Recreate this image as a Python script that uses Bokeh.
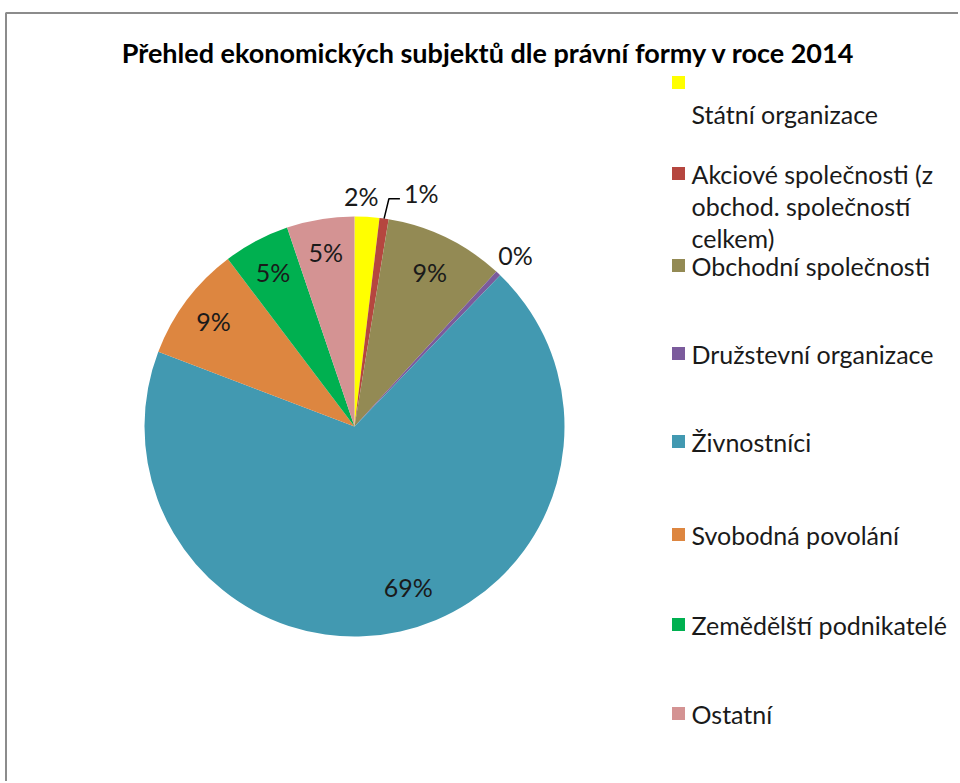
import math
from bokeh.plotting import figure
from bokeh.models import Range1d, ColumnDataSource
from bokeh.core.properties import value
from bokeh.embed import file_html
from bokeh.resources import INLINE

# ---------------- data ----------------
title = "Přehled ekonomických subjektů dle právní formy v roce 2014"
categories = [
    "Státní organizace",
    "Akciové společnosti (z obchod. společností celkem)",
    "Obchodní společnosti",
    "Družstevní organizace",
    "Živnostníci",
    "Svobodná povolání",
    "Zemědělští podnikatelé",
    "Ostatní",
]
shares = [1.9, 0.7, 9.2, 0.4, 68.6, 8.9, 5.1, 5.2]
colors = ["#FFFF00", "#B5463F", "#938A54", "#7B5B9C", "#4299B1",
          "#DD8640", "#00B050", "#D49393"]

# legend text as wrapped in the original
legend_lines = [
    ["Státní organizace"],
    ["Akciové společnosti (z", "obchod. společností", "celkem)"],
    ["Obchodní společnosti"],
    ["Družstevní organizace"],
    ["Živnostníci"],
    ["Svobodná povolání"],
    ["Zemědělští podnikatelé"],
    ["Ostatní"],
]

# ---------------- layout (reference pixel coords) ----------------
W, H = 958, 781
def Y(y):
    return H - y

FONT = "Lato"
CX, CY, R = 354, 426, 210
# label radius factor per slice (None -> leader line label)
label_r = [1.10, None, 0.82, 1.12, 0.80, 0.84, 0.83, 0.84]
label_nudge = [(-7, 0), (0, 0), (0, 0), (0, 0), (17, -3), (0, 0), (0, 0), (0, 0)]
swatch_y = [82, 173, 265, 353, 441, 534, 624, 713]
text_y0 = [113, 173, 265, 353, 441, 534, 624, 713]
line_gap = 32

p = figure(width=W, height=H, x_range=Range1d(0, W), y_range=Range1d(0, H),
           output_backend="svg", toolbar_location=None, min_border=0,
           x_axis_location=None, y_axis_location=None)
p.grid.visible = False
p.outline_line_color = None
p.background_fill_color = "white"
p.border_fill_color = "white"

# chart border
p.line(x=[5.5, 5.5, 960], y=[Y(790), Y(12.5), Y(12.5)], line_color="#8C8C8C", line_width=2)

# title
p.text(x=[488], y=[Y(52)], text=[title], text_font=value(FONT), text_font_style="bold",
       text_font_size="27px", text_align="center", text_baseline="middle", text_color="#000000")

# pie
total = sum(shares)
starts, ends, mids = [], [], []
cum = 0.0
for v in shares:
    a0 = cum / total
    cum += v
    a1 = cum / total
    starts.append(math.pi / 2 - 2 * math.pi * a0)
    ends.append(math.pi / 2 - 2 * math.pi * a1)
    mids.append(2 * math.pi * (a0 + a1) / 2)  # bearing clockwise from north

src = ColumnDataSource(dict(start=starts, end=ends, color=colors))
p.wedge(x=CX, y=Y(CY), radius=R, start_angle="start", end_angle="end",
        direction="clock", fill_color="color", line_color=None, source=src)

labels = [f"{int(v / total * 100 + 0.5)}%" for v in shares]
lx, ly, lt = [], [], []
for i, (lab, b, f, nd) in enumerate(zip(labels, mids, label_r, label_nudge)):
    if f is None:
        # leader line label
        ex, ey = CX + R * math.sin(b), CY - R * math.cos(b)
        kx, ky = CX + (R + 20) * math.sin(b) + 2, CY - (R + 20) * math.cos(b)
        p.line(x=[ex, kx, kx + 11], y=[Y(ey), Y(ky), Y(ky)], line_color="#000000", line_width=1.5)
        p.text(x=[kx + 15], y=[Y(ky - 6)], text=[lab], text_font=value(FONT),
               text_font_size="25px", text_align="left", text_baseline="middle",
               text_color="#1a1a1a")
        continue
    lx.append(CX + f * R * math.sin(b) + nd[0])
    ly.append(CY - f * R * math.cos(b) + nd[1])
    lt.append(lab)

p.text(x=lx, y=[Y(v) for v in ly], text=lt, text_font=value(FONT), text_font_size="25px",
       text_align="center", text_baseline="middle", text_color="#1a1a1a")

# legend
p.rect(x=[678] * len(colors), y=[Y(v) for v in swatch_y], width=13, height=13,
       fill_color=colors, line_color=None)
tx, ty, tt = [], [], []
for lines, y0 in zip(legend_lines, text_y0):
    for k, ln in enumerate(lines):
        tx.append(691)
        ty.append(Y(y0 + k * line_gap))
        tt.append(ln)
p.text(x=tx, y=ty, text=tt, text_font=value(FONT), text_font_size="25px",
       text_align="left", text_baseline="middle", text_color="#1a1a1a")

open("out.html", "w").write(file_html(p, INLINE))
